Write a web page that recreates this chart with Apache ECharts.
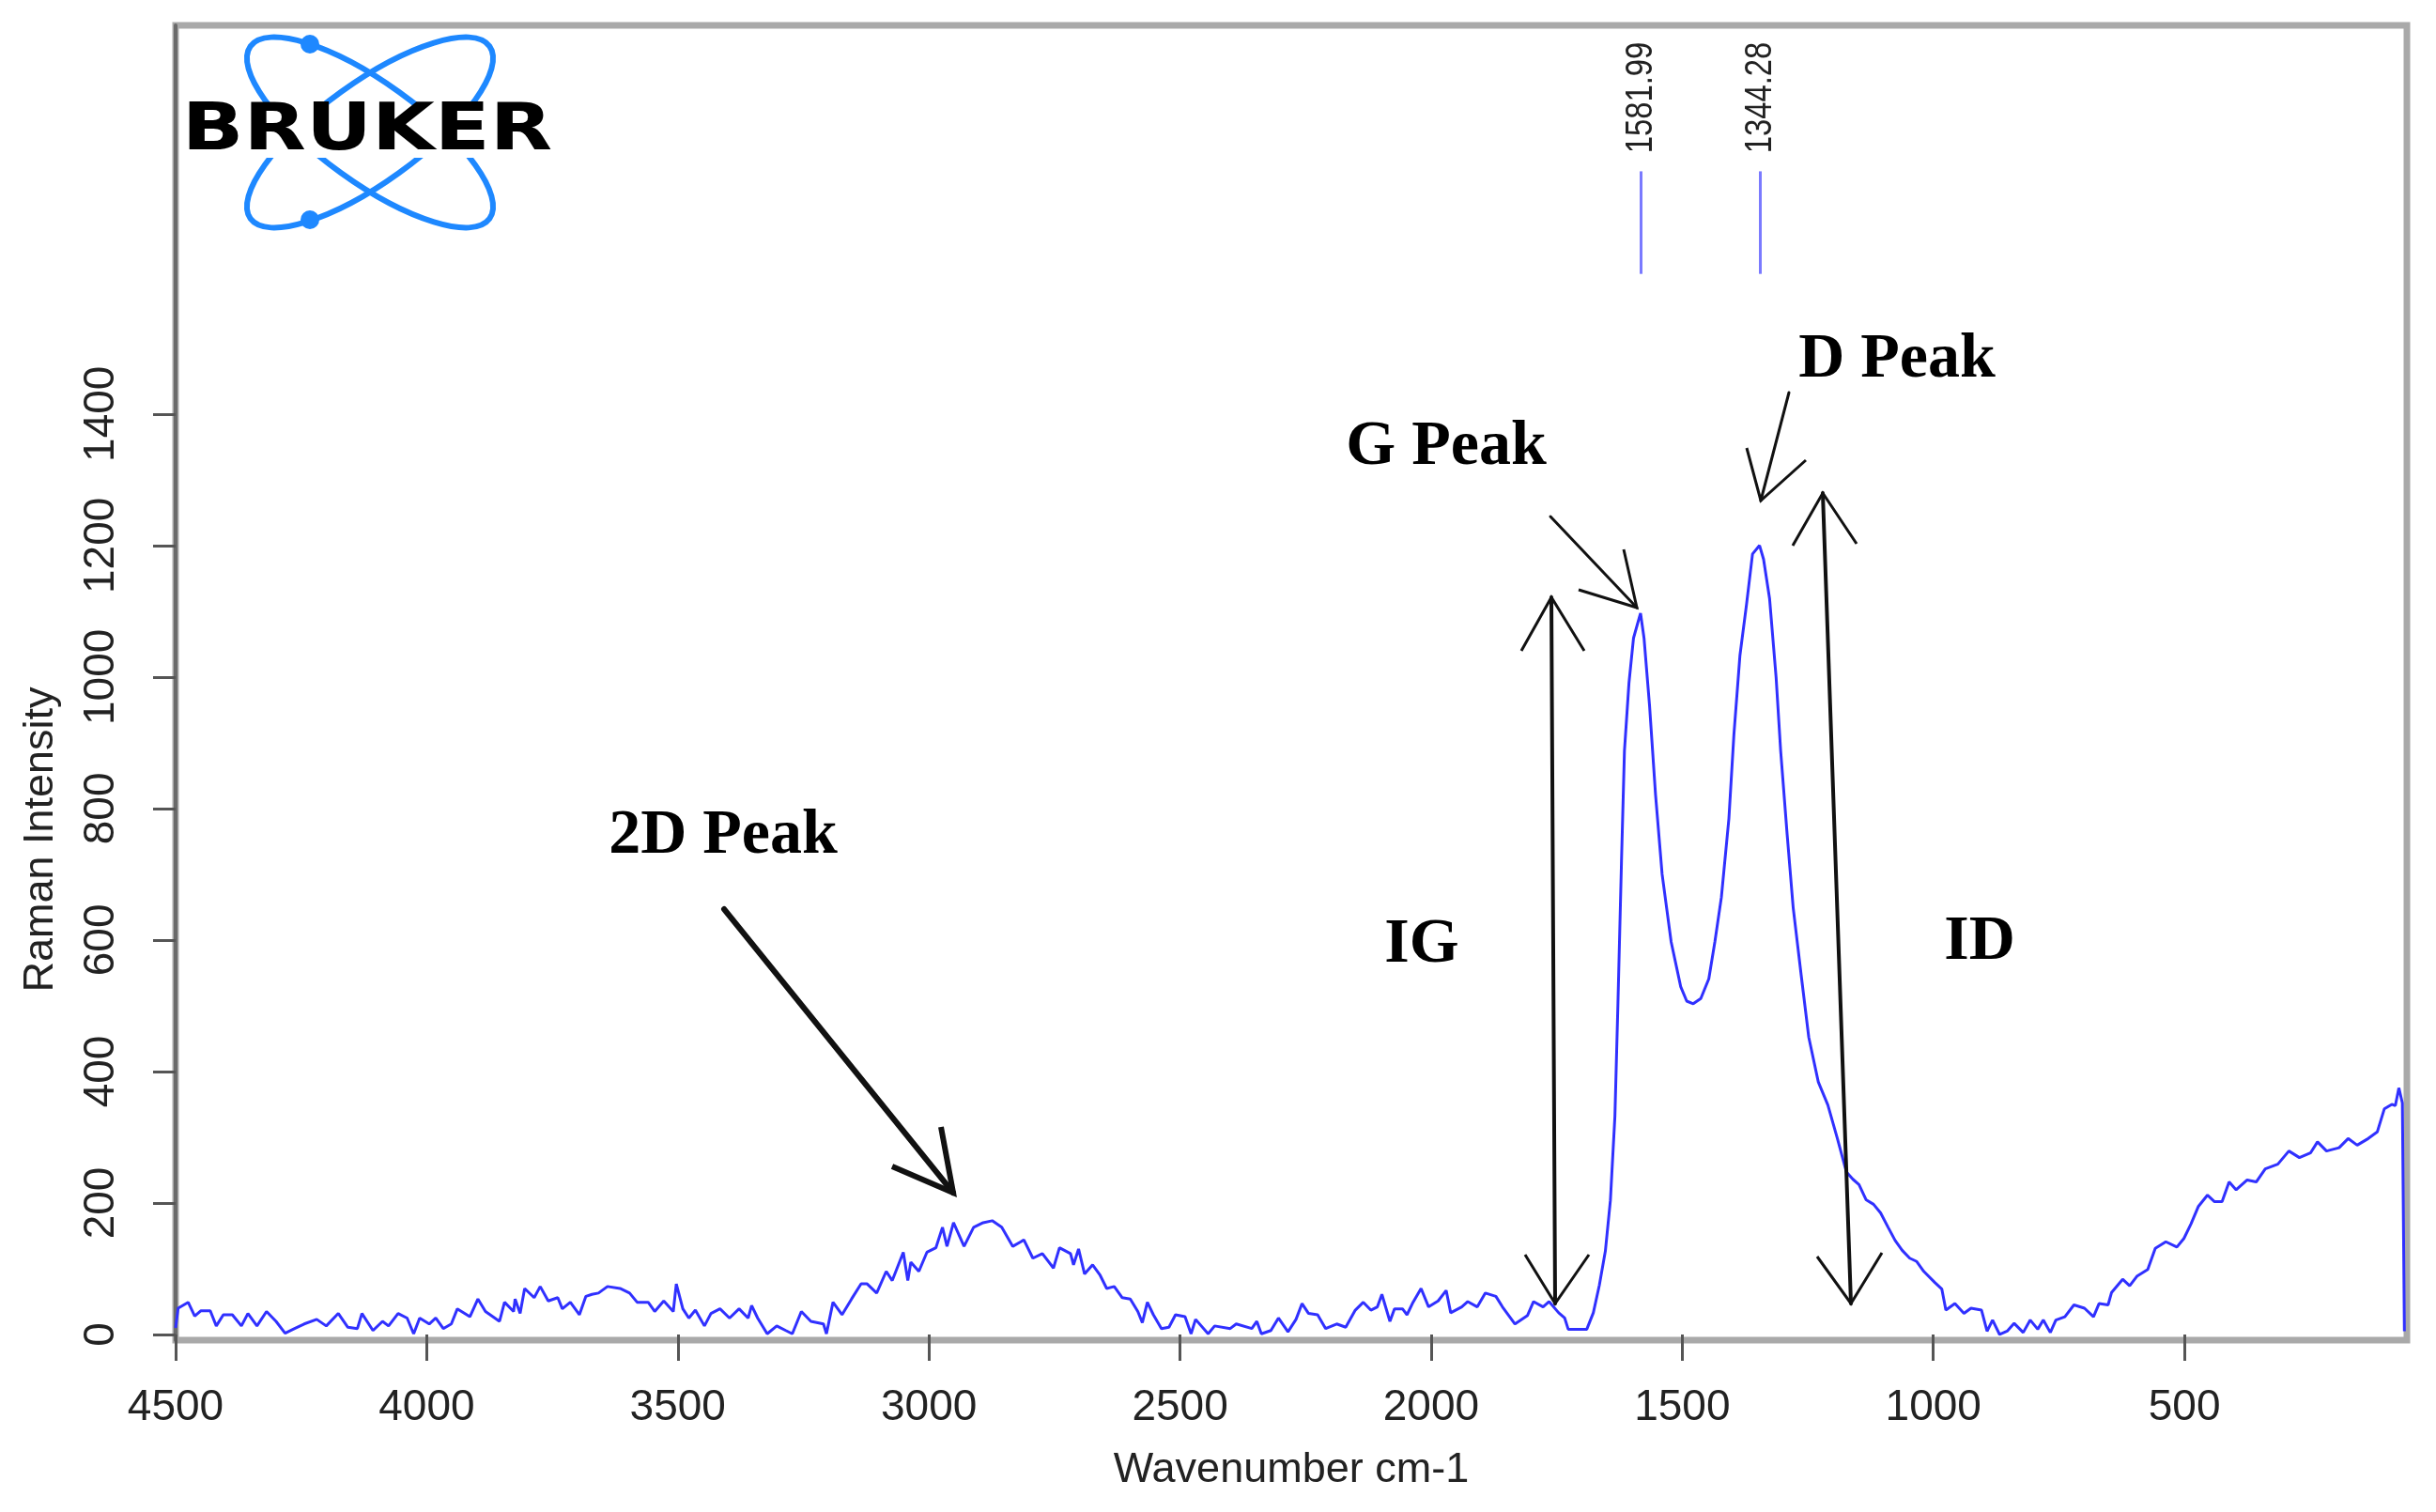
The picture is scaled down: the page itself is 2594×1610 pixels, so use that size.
<!DOCTYPE html>
<html>
<head>
<meta charset="utf-8">
<script src="https://cdn.jsdelivr.net/npm/echarts@6/dist/echarts.min.js"></script>
<style>
html,body{margin:0;padding:0;background:#fff;}
#chart{width:2594px;height:1610px;}
</style>
</head>
<body>
<div id="chart"></div>
<script>
// ---- data ----
const wavenumber = [
4500,4495,4475,4462,4450,4431,4419,4405,4387,4369,4356,4338,4319,4300,4282,4263,4244,4219,4200,4176,4157,4138,4129,4107,4088,4076,4057,4039,4026,4014,3995,3982,3967,3951,3939,3914,3898,3883,3855,3845,3827,3824,3814,3805,3786,3774,3758,3739,3730,3714,3696,3683,3671,3658,
3640,3615,3596,3581,3559,3546,3528,3509,3503,3490,3478,3465,3447,3434,3416,3397,3378,3360,3353,3341,3322,3303,3285,3272,3254,3235,3210,3204,3191,3173,3154,3135,3123,3104,3085,3073,3051,3042,3036,3020,3004,2986,2973,2964,2951,2930,2911,2892,2874,2855,2833,2817,
2811,2793,2774,2752,2740,2718,2712,2702,2690,2674,2659,2646,2631,2615,2599,2584,2575,2565,2553,2537,2522,2509,2490,2478,2469,2444,2431,2400,2388,2357,2347,2338,2319,2304,2285,2269,2257,2244,2226,2210,2188,2170,2151,2135,2120,2107,2098,2082,2073,2057,2048,2036,2020,2005,1986,
1970,1961,1939,1927,1908,1892,1871,1858,1833,1808,1796,1777,1765,1746,1734,1727,1690,1677,1665,1653,1643,1634,1628,1621,1615,1606,1597,1583,1576,1565,1553,1540,1522,1503,1491,1478,1463,1447,1435,1422,1407,1397,1385,1372,1360,1346,1338,1326,1313,1304,1291,1279,1263,1248,1229,1210,1191,1173,1160,1148,
1134,1119,1105,1090,1076,1062,1047,1033,1019,997,983,975,957,939,925,904,893,882,868,853,839,821,807,792,781,767,756,738,720,699,681,670,652,645,623,609,594,573,558,537,515,501,487,472,454,440,425,411,397,375,357,339,314,292,271,249,235,217,192,174,156,134,116,102,87,80,73,66,62
];
const intensity = [
10,40,49,28,36,36,13,30,30,13,32,13,35,20,2,9,16,23,13,32,11,9,32,6,20,13,32,25,1,25,16,25,9,16,39,27,54,35,20,49,35,54,32,70,56,73,51,56,39,49,30,58,61,63,
73,70,63,49,49,35,51,35,77,39,25,37,13,32,39,25,39,25,44,25,1,13,6,1,35,20,16,1,49,30,54,77,77,63,96,82,125,82,110,96,125,132,163,134,170,134,163,170,173,163,134,141,
144,116,123,101,132,123,106,130,92,106,90,70,73,56,54,35,18,49,30,9,11,30,27,1,23,1,13,9,16,9,20,1,6,25,4,23,47,32,30,9,16,11,37,49,37,42,61,20,39,39,30,49,70,42,51,
67,33,42,50,42,63,58,42,16,29,50,42,50,33,25,8,8,33,75,127,204,332,503,717,888,991,1059,1097,1059,956,820,700,597,529,507,503,511,541,597,665,785,913,1033,1110,1187,1200,1179,1119,999,888,760,649,546,452,384,349,298,247,236,228,
205,198,185,163,143,128,116,111,96,79,69,37,47,32,40,37,5,22,0,5,17,3,22,8,22,3,22,27,45,40,27,47,45,64,84,74,89,99,131,141,133,146,168,195,212,202,202,232,220,235,232,252,259,279,269,276,293,279,284,298,288,298,308,343,350,348,375,352,5
];
const xTicks = [4500, 4000, 3500, 3000, 2500, 2000, 1500, 1000, 500];
const yTicks = [0, 200, 400, 600, 800, 1000, 1200, 1400];
const peakPositions = [1581.99, 1344.28];
const peakLabels = ['1581.99', '1344.28'];
const peakMarkerSpan = [1613, 1769];

const chart = echarts.init(document.getElementById('chart'), null, {renderer: 'canvas'});
const FONT = '"Liberation Sans", Arial, sans-serif';
const SERIF = '"Liberation Serif", "Times New Roman", serif';

const spectrum = wavenumber.map((w, i) => [w, intensity[i]]);

const option = {
  animation: false,
  backgroundColor: '#ffffff',
  grid: {
    left: 187, right: 31, top: 27, bottom: 183,
    show: true, borderColor: '#a9a9a9', borderWidth: 7,
    outerBoundsMode: 'none', containLabel: false
  },
  xAxis: {
    type: 'value', inverse: true, min: 57, max: 4500,
    axisLine: {show: false},
    splitLine: {show: false},
    axisTick: {show: true, length: 28, customValues: xTicks, lineStyle: {color: '#555', width: 3}},
    axisLabel: {customValues: xTicks, fontSize: 46, color: '#222', fontFamily: FONT, margin: 49,
      formatter: v => String(v)},
    name: 'Wavenumber cm-1', nameLocation: 'middle', nameGap: 116,
    nameTextStyle: {fontSize: 45, color: '#222', fontFamily: FONT}
  },
  yAxis: {
    type: 'value', min: -8.6, max: 1991,
    axisLine: {show: true, lineStyle: {color: '#6a6a6a', width: 4}},
    splitLine: {show: false},
    axisTick: {show: true, length: 24, customValues: yTicks, lineStyle: {color: '#555', width: 3}},
    axisLabel: {customValues: yTicks, fontSize: 46, color: '#222', fontFamily: FONT, rotate: 90, margin: 56,
      formatter: v => String(v)}
  },
  series: [{
    type: 'line',
    data: spectrum,
    showSymbol: false,
    symbol: 'none',
    lineStyle: {color: '#3030ff', width: 3},
    markLine: {
      silent: true,
      symbol: ['none', 'none'],
      label: {show: false},
      lineStyle: {color: '#7a7aff', width: 3, type: 'solid'},
      data: peakPositions.map(p => [{coord: [p, peakMarkerSpan[0]]}, {coord: [p, peakMarkerSpan[1]]}])
    }
  }]
};
chart.setOption(option);

// ---- annotations ----
function seg(x1, y1, x2, y2, w) {
  return {type: 'line', z: 50, shape: {x1, y1, x2, y2}, style: {stroke: '#111', lineWidth: w, lineCap: 'round'}};
}
function head(tip, b1, b2, w) {
  return {type: 'polyline', z: 50, shape: {points: [b1, tip, b2]}, style: {stroke: '#111', lineWidth: w, fill: null, lineJoin: 'miter'}};
}
function label(text, x, y) {
  return {type: 'text', z: 50, x, y, style: {text, font: 'bold 68px ' + SERIF, fill: '#000', align: 'center', verticalAlign: 'middle'}};
}

const g = [];
// logo
g.push({type: 'ellipse', z: 40, x: 394, y: 141, rotation: -0.625, shape: {cx: 0, cy: 0, rx: 157, ry: 53}, style: {fill: null, stroke: '#1e88ff', lineWidth: 6}});
g.push({type: 'ellipse', z: 40, x: 394, y: 141, rotation: 0.625, shape: {cx: 0, cy: 0, rx: 157, ry: 53}, style: {fill: null, stroke: '#1e88ff', lineWidth: 6}});
g.push({type: 'circle', z: 41, shape: {cx: 330, cy: 47, r: 10}, style: {fill: '#1e88ff'}});
g.push({type: 'circle', z: 41, shape: {cx: 330, cy: 234, r: 10}, style: {fill: '#1e88ff'}});
g.push({type: 'rect', z: 42, shape: {x: 194, y: 112, width: 394, height: 56}, style: {fill: '#fff'}});
g.push({type: 'text', z: 43, x: 391, y: 141, scaleX: 1.25, style: {text: 'BRUKER', font: 'bold 69px "DejaVu Sans", sans-serif', fill: '#000', align: 'center', verticalAlign: 'middle'}});

// text labels
g.push(label('2D Peak', 770, 890));
g.push(label('G Peak', 1540, 476));
g.push(label('D Peak', 2020, 383));
g.push(label('IG', 1514, 1006));
g.push(label('ID', 2108, 1003));

// 2D arrow
g.push(seg(771, 968, 1015, 1270, 6));
g.push(head([1015, 1270], [950, 1242], [1002, 1200], 6));
// G arrow
g.push(seg(1651, 550, 1743, 647, 3));
g.push(head([1743, 647], [1681, 628], [1729, 585], 3));
// D arrow
g.push(seg(1905, 418, 1875, 533, 3));
g.push(head([1875, 533], [1860, 477], [1923, 490], 3));
// IG double arrow
g.push(seg(1652, 636, 1656, 1388, 4));
g.push(head([1652, 636], [1620, 693], [1687, 693], 3));
g.push(head([1656, 1388], [1624, 1336], [1692, 1336], 3));
// ID double arrow
g.push(seg(1941, 525, 1971, 1388, 4));
g.push(head([1941, 525], [1909, 581], [1977, 579], 3));
g.push(head([1971, 1388], [1935, 1338], [2004, 1334], 3));

// peak position labels
peakPositions.forEach((p, i) => {
  const px = chart.convertToPixel({xAxisIndex: 0}, p);
  g.push({type: 'text', z: 50, x: px, y: 104, rotation: Math.PI / 2, scaleX: 0.82,
    style: {text: peakLabels[i], font: '40px ' + FONT, fill: '#222', align: 'center', verticalAlign: 'middle'}});
});

// y axis title
g.push({type: 'text', z: 50, x: 44, y: 894, rotation: Math.PI / 2,
  style: {text: 'Raman Intensity', font: '45px ' + FONT, fill: '#222', align: 'center', verticalAlign: 'middle'}});

chart.setOption({graphic: {elements: g}});
</script>
</body>
</html>
